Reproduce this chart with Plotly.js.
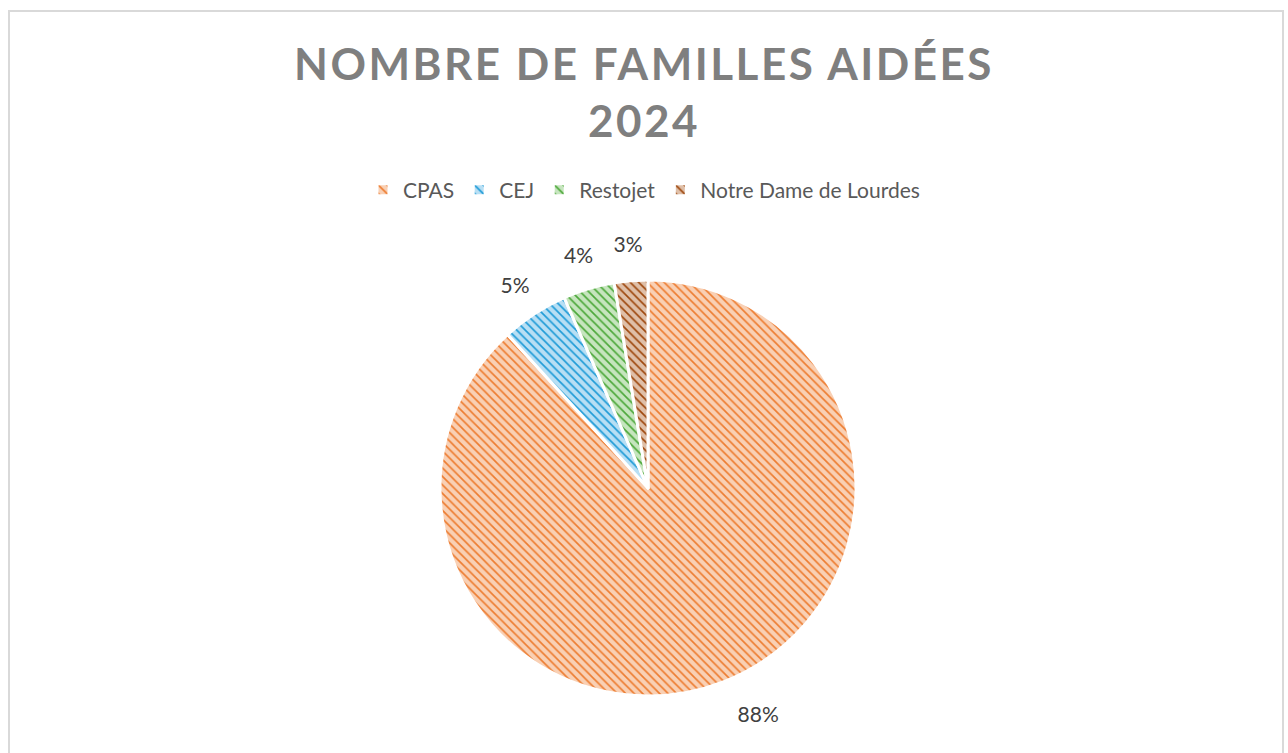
<!DOCTYPE html>
<html>
<head>
<meta charset="utf-8">
<script src="https://cdn.plot.ly/plotly-3.0.1.min.js"></script>
<style>
  html, body { margin: 0; padding: 0; background: #ffffff; }
  #frame { position: absolute; left: 8px; top: 10px; width: 1276px; height: 760px; border: 2px solid #D9D9D9; box-sizing: border-box; pointer-events: none; }
  #chart { position: absolute; left: 0; top: 0; width: 1288px; height: 753px; }
  .gtitle { letter-spacing: 2.5px; }
  path.textline { stroke-opacity: 0 !important; }
</style>
</head>
<body>
<div id="chart"></div>
<div id="frame"></div>
<script>
// Data
const categories = ["CPAS", "CEJ", "Restojet", "Notre Dame de Lourdes"];
const shares = [88.2, 5.2, 4.0, 2.6];

// Styling
const fgColors = ["#ED7D31", "#1E9BD7", "#4CA83A", "#9E480E"];
const bgColors = ["#F9D0B4", "#B8DFF4", "#C6E5BE", "#DFBFA8"];
const clear = ["rgba(0,0,0,0)", "rgba(0,0,0,0)", "rgba(0,0,0,0)", "rgba(0,0,0,0)"];
const labelFont = { family: "Lato, 'Open Sans', sans-serif", size: 21, color: "#404040" };

const cx = 648, cy = 488, R = 208, Rlab = 265, Rout = 230;

function dom(r) {
  return { x: [(cx - r) / 1288, (cx + r) / 1288], y: [1 - (cy + r) / 753, 1 - (cy - r) / 753] };
}

const pieTrace = {
  type: "pie",
  labels: categories,
  values: shares,
  sort: false,
  direction: "clockwise",
  rotation: 0,
  textinfo: "none",
  hoverinfo: "label+percent",
  marker: {
    colors: bgColors,
    line: { color: "#ffffff", width: 3 },
    pattern: { shape: "\\", fgcolor: fgColors, bgcolor: bgColors, size: 6, solidity: 0.28 }
  },
  domain: dom(R)
};

// transparent ring carrying the small-slice percentage labels just outside the pie
const labelTrace = {
  type: "pie",
  labels: categories,
  values: shares,
  sort: false,
  direction: "clockwise",
  rotation: 0,
  hole: 222 / Rlab,
  showlegend: false,
  hoverinfo: "skip",
  textposition: ["none", "inside", "inside", "inside"],
  insidetextorientation: "horizontal",
  texttemplate: "%{percent:.0%}",
  textfont: labelFont,
  marker: { colors: clear, line: { width: 0 } },
  domain: dom(Rlab)
};

// transparent ring carrying the large-slice label outside its edge
const outerLabelTrace = {
  type: "pie",
  labels: categories,
  values: shares,
  sort: false,
  direction: "clockwise",
  rotation: 0,
  hole: 0.98,
  showlegend: false,
  hoverinfo: "skip",
  textposition: ["outside", "none", "none", "none"],
  texttemplate: "%{percent:.0%}",
  textfont: labelFont,
  marker: { colors: clear, line: { width: 0 } },
  domain: dom(Rout)
};

const layout = {
  width: 1288,
  height: 753,
  margin: { l: 0, r: 0, t: 0, b: 0 },
  paper_bgcolor: "#ffffff",
  title: {
    text: "NOMBRE DE FAMILLES AIDÉES<br>2024",
    font: { family: "Lato, 'Open Sans', sans-serif", size: 44, color: "#7F7F7F", weight: "bold" },
    x: 0.5, xanchor: "center",
    y: 1 - 80 / 753, yanchor: "top", yref: "container"
  },
  showlegend: true,
  legend: {
    orientation: "h",
    x: 0.5, xanchor: "center",
    y: 1 - 190 / 753, yanchor: "middle",
    font: { family: "Lato, 'Open Sans', sans-serif", size: 21, color: "#595959" },
    itemwidth: 30,
    traceorder: "normal"
  }
};

Plotly.newPlot("chart", [pieTrace, labelTrace, outerLabelTrace], layout, { displayModeBar: false, staticPlot: true });
</script>
</body>
</html>
